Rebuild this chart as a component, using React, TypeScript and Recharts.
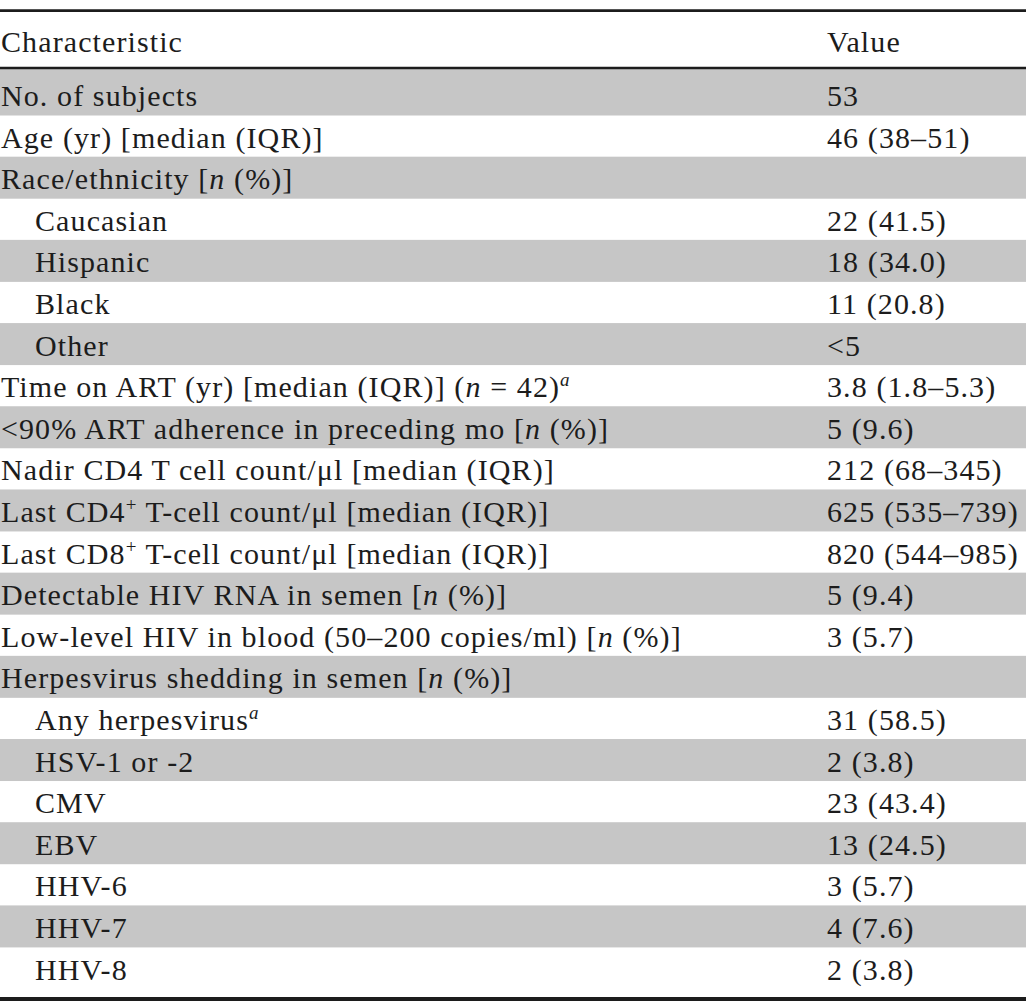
import { Bar, BarChart, Customized, XAxis, YAxis } from "recharts";

const rowLabels = [
  "No. of subjects",
  "Age (yr) [median (IQR)]",
  "Race/ethnicity [*n* (%)]",
  "Caucasian",
  "Hispanic",
  "Black",
  "Other",
  "Time on ART (yr) [median (IQR)] (*n* = 42)~a~",
  "<90% ART adherence in preceding mo [*n* (%)]",
  "Nadir CD4 T cell count/μl [median (IQR)]",
  "Last CD4^+^ T-cell count/μl [median (IQR)]",
  "Last CD8^+^ T-cell count/μl [median (IQR)]",
  "Detectable HIV RNA in semen [*n* (%)]",
  "Low-level HIV in blood (50–200 copies/ml) [*n* (%)]",
  "Herpesvirus shedding in semen [*n* (%)]",
  "Any herpesvirus~a~",
  "HSV-1 or -2",
  "CMV",
  "EBV",
  "HHV-6",
  "HHV-7",
  "HHV-8",
];

const rowValues = [
  "53",
  "46 (38–51)",
  "",
  "22 (41.5)",
  "18 (34.0)",
  "11 (20.8)",
  "<5",
  "3.8 (1.8–5.3)",
  "5 (9.6)",
  "212 (68–345)",
  "625 (535–739)",
  "820 (544–985)",
  "5 (9.4)",
  "3 (5.7)",
  "",
  "31 (58.5)",
  "2 (3.8)",
  "23 (43.4)",
  "13 (24.5)",
  "3 (5.7)",
  "4 (7.6)",
  "2 (3.8)",
];

// 1 = sub-item (indented)
const rowIndent = [0, 0, 0, 1, 1, 1, 1, 0, 0, 0, 0, 0, 0, 0, 0, 1, 1, 1, 1, 1, 1, 1];

// 1 = grey band behind the row
const rowShade = [1, 0, 1, 0, 1, 0, 1, 0, 1, 0, 1, 0, 1, 0, 1, 0, 1, 0, 1, 0, 1, 0];

const headerLabel = "Characteristic";
const headerValue = "Value";

const rows = rowLabels.map((label, i) => ({
  label,
  value: rowValues[i],
  indent: rowIndent[i],
  shade: rowShade[i],
}));

const FONT = "'Liberation Serif', 'Times New Roman', serif";
const FONT_SIZE = 30;
const SPACING = 1.1;
const INK = "#1c1c1c";
const GREY = "#c6c6c6";
const VALUE_X = 827;

// *x* italic, ^x^ superscript, ~x~ italic superscript
function rich(s: string) {
  const parts = s.split(/(\*[^*]+\*|\^[^^]+\^|~[^~]+~)/).filter(Boolean);
  let shift = 0;
  return parts.map((p, k) => {
    let txt = p;
    let ital = false;
    let sup = false;
    if (p[0] === "*") {
      ital = true;
      txt = p.slice(1, -1);
    } else if (p[0] === "^") {
      sup = true;
      txt = p.slice(1, -1);
    } else if (p[0] === "~") {
      sup = true;
      ital = true;
      txt = p.slice(1, -1);
    }
    const target = sup ? -11 : 0;
    const dy = target - shift;
    shift = target;
    return (
      <tspan
        key={k}
        dy={dy}
        fontStyle={ital ? "italic" : undefined}
        fontSize={sup ? 19 : undefined}
      >
        {txt}
      </tspan>
    );
  });
}

function RowTick(props: any) {
  const { y, payload } = props;
  const row = rows[payload.index];
  if (!row) return null;
  const base = y + 11.7;
  return (
    <g fontFamily={FONT} fontSize={FONT_SIZE} letterSpacing={SPACING} fill={INK}>
      <text x={row.indent ? 35 : 1} y={base}>
        {rich(row.label)}
      </text>
      <text x={VALUE_X} y={base}>
        {rich(row.value)}
      </text>
    </g>
  );
}

function ShadeBar(props: any) {
  const { x, y, width, height, index } = props;
  if (!width) return null;
  // first band runs up to the header rule
  const lift = index === 0 ? 4.5 : 0;
  return <rect x={x} y={y - lift} width={width} height={height + lift} fill={GREY} />;
}

function Header() {
  return (
    <g fontFamily={FONT} fontSize={FONT_SIZE} letterSpacing={SPACING} fill={INK}>
      <line x1={0} x2={1026} y1={10.7} y2={10.7} stroke={INK} strokeWidth={2.7} />
      <text x={1} y={51.7}>{headerLabel}</text>
      <text x={VALUE_X} y={51.7}>{headerValue}</text>
    </g>
  );
}

export default function App() {
  return (
    <div style={{ width: 1026, height: 1001, background: "#fff", overflow: "hidden" }}>
      <style>{"body{margin:0}"}</style>
      <BarChart
        layout="vertical"
        width={1026}
        height={1001}
        data={rows}
        margin={{ top: 67, right: 0, bottom: 1, left: -1 }}
        barCategoryGap={0}
      >
        <XAxis
          xAxisId="top"
          orientation="top"
          type="number"
          domain={[0, 1]}
          height={1}
          tick={false}
          tickLine={false}
          axisLine={{ stroke: INK, strokeWidth: 2.6 }}
        />
        <XAxis
          xAxisId="bottom"
          orientation="bottom"
          type="number"
          domain={[0, 1]}
          height={1}
          tick={false}
          tickLine={false}
          axisLine={{ stroke: INK, strokeWidth: 4 }}
        />
        <Bar
          xAxisId="bottom"
          dataKey="shade"
          fill={GREY}
          shape={ShadeBar}
          isAnimationActive={false}
        />
        <YAxis
          type="category"
          dataKey="label"
          width={1}
          interval={0}
          padding={{ top: 5.5, bottom: 10.4 }}
          axisLine={false}
          tickLine={false}
          tick={RowTick}
        />
        <Customized component={<Header />} />
      </BarChart>
    </div>
  );
}
